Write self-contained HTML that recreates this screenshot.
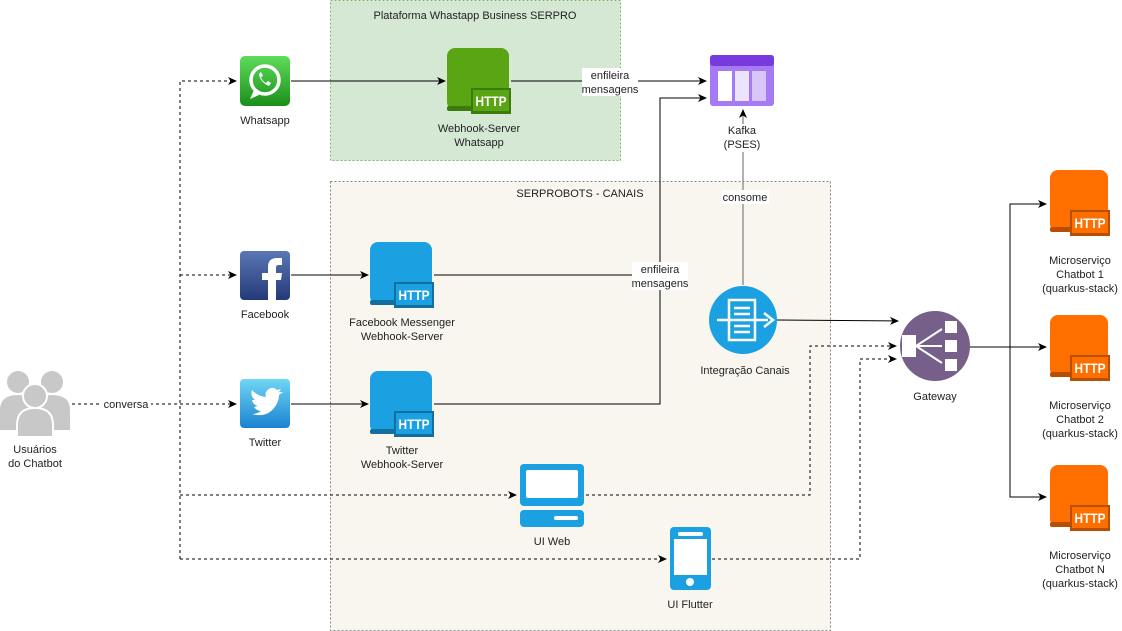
<!DOCTYPE html>
<html><head><meta charset="utf-8"><style>
body{margin:0;background:#fff;}
svg{display:block;font-family:"Liberation Sans",Arial,sans-serif;font-size:11px;}
text{fill:#222;text-anchor:middle;}
.h{fill:#fff;font-size:14px;font-weight:bold;}
</style></head><body>
<svg width="1122" height="631" viewBox="0 0 1122 631" xmlns="http://www.w3.org/2000/svg">
<defs>
<marker id="a" markerWidth="10" markerHeight="10" refX="8" refY="5" orient="auto" markerUnits="userSpaceOnUse">
<path d="M0,1 L9,5 L0,9 L2.5,5 Z" fill="#000"/></marker>
<linearGradient id="wa" x1="0" y1="0" x2="0" y2="1"><stop offset="0" stop-color="#5fdc5a"/><stop offset="1" stop-color="#1a8f1a"/></linearGradient>
<linearGradient id="fb" x1="0" y1="0" x2="0" y2="1"><stop offset="0" stop-color="#5b77b5"/><stop offset="1" stop-color="#233a77"/></linearGradient>
<linearGradient id="tw" x1="0" y1="0" x2="0" y2="1"><stop offset="0" stop-color="#6fd6f5"/><stop offset="1" stop-color="#1b82d0"/></linearGradient>
</defs>

<rect x="330.5" y="0.5" width="290" height="160" fill="#d5e8d4" stroke="#82b366" stroke-dasharray="2 2"/>
<text x="475" y="19">Plataforma Whastapp Business SERPRO</text>
<rect x="330.5" y="181.5" width="500" height="449" fill="#f8f6ee" stroke="#888" stroke-dasharray="2 2"/>
<text x="580" y="197">SERPROBOTS - CANAIS</text>

<g stroke="#000" fill="none" stroke-dasharray="3 3">
<line x1="72" y1="404" x2="236" y2="404" marker-end="url(#a)"/>
<polyline points="180,559 180,81 236,81" marker-end="url(#a)"/>
<line x1="180" y1="275" x2="236" y2="275" marker-end="url(#a)"/>
<line x1="180" y1="495" x2="516" y2="495" marker-end="url(#a)"/>
<line x1="180" y1="559" x2="666" y2="559" marker-end="url(#a)"/>
<polyline points="586,495 810,495 810,346 896,346" marker-end="url(#a)"/>
<polyline points="712,559 860,559 860,359 896,359" marker-end="url(#a)"/>
</g>
<rect x="101" y="398" width="50" height="12" fill="#fff"/>
<text x="126" y="408">conversa</text>

<g stroke="#000" fill="none">
<line x1="291" y1="81" x2="445" y2="81" marker-end="url(#a)"/>
<line x1="511" y1="81" x2="706" y2="81" marker-end="url(#a)"/>
<polyline points="434,404 660,404 660,98 706,98" marker-end="url(#a)"/>
<line x1="434" y1="275" x2="660" y2="275"/>
<line x1="291" y1="275" x2="368" y2="275" marker-end="url(#a)"/>
<line x1="291" y1="404" x2="368" y2="404" marker-end="url(#a)"/>
<line x1="743" y1="285" x2="743" y2="110" stroke="#666" marker-end="url(#a)"/>
<line x1="777" y1="320" x2="898" y2="321" marker-end="url(#a)"/>
<line x1="970" y1="347" x2="1046" y2="347" marker-end="url(#a)"/>
<polyline points="1046,204 1010,204 1010,497 1046,497" stroke="#000"/>
<line x1="1010" y1="204" x2="1046" y2="204" marker-end="url(#a)"/>
<line x1="1010" y1="497" x2="1046" y2="497" marker-end="url(#a)"/>
</g>
<rect x="582" y="68" width="56" height="28" fill="#fff"/>
<text x="610" y="79">enfileira</text><text x="610" y="93">mensagens</text>
<rect x="632" y="262" width="56" height="28" fill="#fff"/>
<text x="660" y="273">enfileira</text><text x="660" y="287">mensagens</text>
<rect x="721" y="190" width="48" height="14" fill="#fff"/>
<text x="745" y="201">consome</text>

<g fill="#c8c8c8">
<circle cx="18" cy="382" r="11"/><circle cx="52" cy="382" r="11"/>
<path d="M0,410 q0,-15 18,-15 q18,0 18,15 v20 h-36z"/>
<path d="M34,410 q0,-15 18,-15 q18,0 18,15 v20 h-36z"/>
<circle cx="35" cy="396" r="12" stroke="#fff" stroke-width="2"/>
<path d="M17,425 q0,-17 18,-17 q18,0 18,17 v12 h-36z" stroke="#fff" stroke-width="2"/>
</g>
<text x="35" y="453">Usuários</text><text x="35" y="467">do Chatbot</text>

<rect x="240" y="56" width="50" height="50" rx="5" fill="url(#wa)"/>
<circle cx="265" cy="80" r="14" fill="none" stroke="#fff" stroke-width="3.5"/>
<path d="M254,90 l-4,9 l9,-4z" fill="#fff"/>
<path d="M259,74 q1,8 10,12 l2,-3 l-3,-2 l-2,2 q-4,-2 -5,-6 l2,-1 l-2,-4z" fill="#fff"/>
<text x="265" y="124">Whatsapp</text>

<rect x="240" y="251" width="50" height="49" rx="4" fill="url(#fb)"/>
<path d="M268,300 v-20 h-6 v-7 h6 v-6 q0,-9 9,-9 h5 v7 h-4 q-2,0 -2,3 v5 h6 l-1,7 h-5 v20z" fill="#fff"/>
<text x="265" y="318">Facebook</text>

<rect x="240" y="379" width="50" height="49" rx="4" fill="url(#tw)"/>
<path d="M252,414 q14,4 22,-6 q5,-6 5,-13 l4,-3 l-4,0 l2,-3 l-4,1 q-6,-5 -11,2 q-1,3 0,5 q-9,-1 -14,-7 q-2,6 3,10 l-3,0 q1,5 6,6 l-4,1 q3,4 7,4 q-4,3 -9,3z" fill="#fff"/>
<text x="265" y="446">Twitter</text>

<g transform="translate(447,48)">
<rect x="0" y="0" width="62" height="62" rx="8" fill="#5aa514"/><rect x="0" y="58" width="60" height="5" rx="2" fill="#3d7a0e"/>
<rect x="24" y="40" width="40" height="26" fill="#3d7a0e"/><rect x="26" y="42" width="36" height="21" fill="#5aa514"/>
<text x="44" y="58" class="h" textLength="31" lengthAdjust="spacingAndGlyphs">HTTP</text></g>
<text x="479" y="132">Webhook-Server</text><text x="479" y="146">Whatsapp</text>

<g transform="translate(370,242)">
<rect x="0" y="0" width="62" height="62" rx="8" fill="#1ba1e2"/><rect x="0" y="58" width="60" height="5" rx="2" fill="#136fa0"/>
<rect x="24" y="40" width="40" height="26" fill="#136fa0"/><rect x="26" y="42" width="36" height="21" fill="#1ba1e2"/>
<text x="44" y="58" class="h" textLength="31" lengthAdjust="spacingAndGlyphs">HTTP</text></g>
<text x="402" y="326">Facebook Messenger</text><text x="402" y="340">Webhook-Server</text>

<g transform="translate(370,371)">
<rect x="0" y="0" width="62" height="62" rx="8" fill="#1ba1e2"/><rect x="0" y="58" width="60" height="5" rx="2" fill="#136fa0"/>
<rect x="24" y="40" width="40" height="26" fill="#136fa0"/><rect x="26" y="42" width="36" height="21" fill="#1ba1e2"/>
<text x="44" y="58" class="h" textLength="31" lengthAdjust="spacingAndGlyphs">HTTP</text></g>
<text x="402" y="454">Twitter</text><text x="402" y="468">Webhook-Server</text>

<g transform="translate(1050,170)">
<rect x="0" y="0" width="58" height="62" rx="8" fill="#ff6f00"/><rect x="0" y="57" width="56" height="5" rx="2" fill="#b84f00"/>
<rect x="20" y="40" width="40" height="26" fill="#b84f00"/><rect x="22" y="42" width="36" height="21" fill="#ff6f00"/>
<text x="40" y="58" class="h" textLength="31" lengthAdjust="spacingAndGlyphs">HTTP</text></g>
<text x="1080" y="264">Microserviço</text><text x="1080" y="278">Chatbot 1</text><text x="1080" y="292">(quarkus-stack)</text>

<g transform="translate(1050,315)">
<rect x="0" y="0" width="58" height="62" rx="8" fill="#ff6f00"/><rect x="0" y="57" width="56" height="5" rx="2" fill="#b84f00"/>
<rect x="20" y="40" width="40" height="26" fill="#b84f00"/><rect x="22" y="42" width="36" height="21" fill="#ff6f00"/>
<text x="40" y="58" class="h" textLength="31" lengthAdjust="spacingAndGlyphs">HTTP</text></g>
<text x="1080" y="409">Microserviço</text><text x="1080" y="423">Chatbot 2</text><text x="1080" y="437">(quarkus-stack)</text>

<g transform="translate(1050,465)">
<rect x="0" y="0" width="58" height="62" rx="8" fill="#ff6f00"/><rect x="0" y="57" width="56" height="5" rx="2" fill="#b84f00"/>
<rect x="20" y="40" width="40" height="26" fill="#b84f00"/><rect x="22" y="42" width="36" height="21" fill="#ff6f00"/>
<text x="40" y="58" class="h" textLength="31" lengthAdjust="spacingAndGlyphs">HTTP</text></g>
<text x="1080" y="559">Microserviço</text><text x="1080" y="573">Chatbot N</text><text x="1080" y="587">(quarkus-stack)</text>

<rect x="710" y="55" width="64" height="51" rx="3" fill="#a67af4"/>
<rect x="710" y="55" width="64" height="11" rx="3" fill="#773adc"/>
<rect x="718" y="71" width="14" height="30" fill="#fff"/>
<rect x="735" y="71" width="14" height="30" fill="#ece4fc"/>
<rect x="752" y="71" width="14" height="30" fill="#d8c6fa"/>
<rect x="719" y="124" width="46" height="28" fill="#fff"/>
<text x="742" y="134">Kafka</text><text x="742" y="148">(PSES)</text>

<circle cx="743" cy="320" r="34" fill="#1ba1e2"/>
<rect x="729" y="300" width="26" height="40" fill="none" stroke="#fff" stroke-width="2.5"/>
<line x1="734" y1="308" x2="750" y2="308" stroke="#fff" stroke-width="2.5"/>
<line x1="734" y1="314" x2="750" y2="314" stroke="#fff" stroke-width="2.5"/>
<line x1="734" y1="326" x2="750" y2="326" stroke="#fff" stroke-width="2.5"/>
<line x1="734" y1="332" x2="750" y2="332" stroke="#fff" stroke-width="2.5"/>
<line x1="717" y1="320" x2="768" y2="320" stroke="#fff" stroke-width="2.5"/>
<path d="M764,313 l9,7 l-9,7" fill="none" stroke="#fff" stroke-width="2.5"/>
<text x="745" y="374">Integração Canais</text>

<circle cx="935" cy="346" r="35" fill="#76608a"/>
<rect x="902" y="335" width="14" height="22" fill="#fff"/>
<rect x="945" y="321" width="12" height="12" fill="#fff"/>
<rect x="945" y="340" width="12" height="12" fill="#fff"/>
<rect x="945" y="359" width="12" height="12" fill="#fff"/>
<g stroke="#fff" stroke-width="2"><line x1="916" y1="346" x2="942" y2="329"/><line x1="916" y1="346" x2="942" y2="346"/><line x1="916" y1="346" x2="942" y2="363"/></g>
<text x="935" y="400">Gateway</text>

<rect x="520" y="464" width="64" height="42" rx="4" fill="#1ba1e2"/>
<rect x="526" y="470" width="52" height="28" rx="2" fill="#fff"/>
<rect x="520" y="510" width="64" height="17" rx="4" fill="#1ba1e2"/>
<rect x="554" y="516" width="24" height="4" rx="2" fill="#fff"/>
<text x="552" y="545">UI Web</text>

<rect x="670" y="527" width="41" height="63" rx="4" fill="#1ba1e2"/>
<rect x="678" y="532" width="25" height="4" rx="2" fill="#fff"/>
<rect x="674" y="539" width="33" height="36" fill="#fff"/>
<circle cx="690" cy="582" r="4" fill="#fff"/>
<text x="690" y="608">UI Flutter</text>
</svg>
</body></html>
